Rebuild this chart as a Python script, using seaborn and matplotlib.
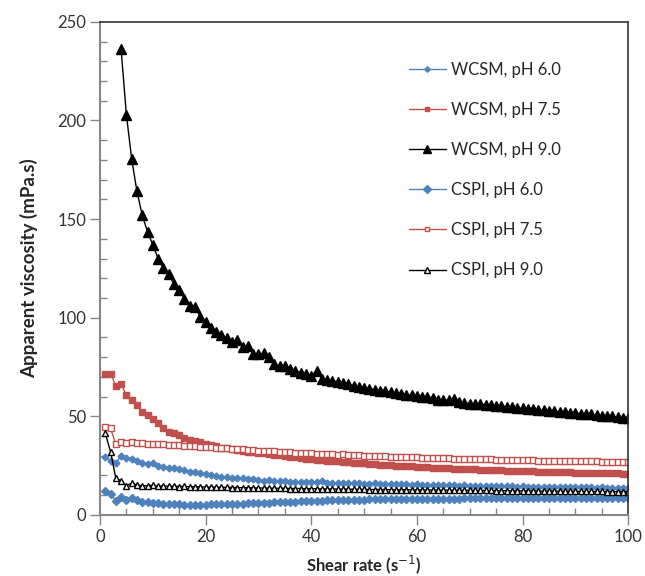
import numpy as np
import pandas as pd
import matplotlib
matplotlib.use("Agg")
import matplotlib.pyplot as plt
import seaborn as sns
from matplotlib.ticker import MultipleLocator

# shear rate grid (1/s)
shear_rate = np.arange(1, 101)
shear_rate_w90 = np.arange(4, 101)

# apparent viscosity (mPa.s)
wcsm_60 = [29.6, 27.4, 26.2, 30.1, 29.1, 28.4, 27.4, 26.2, 25.7, 26.2,
           25.0, 24.5, 23.7, 23.7, 23.3, 22.8, 22.0, 21.6, 21.1, 20.6,
           20.3, 19.9, 19.4, 19.4, 18.9, 18.9, 18.6, 18.3, 18.1, 17.8,
           17.4, 17.5, 17.2, 17.1, 17.2, 16.9, 16.8, 16.7, 16.8, 16.5,
           16.6, 17.0, 16.4, 16.3, 16.2, 16.4, 16.1, 16.0, 16.2, 15.9,
           15.8, 16.0, 15.7, 15.6, 15.8, 15.6, 15.5, 15.7, 15.4, 15.5,
           15.3, 15.4, 15.2, 15.3, 15.1, 15.0, 15.1, 14.9, 15.0, 14.8,
           14.9, 14.8, 14.7, 14.8, 14.6, 14.5, 14.6, 14.5, 14.4, 14.5,
           14.4, 14.3, 14.4, 14.3, 14.2, 14.3, 14.2, 14.1, 14.2, 14.1,
           14.0, 14.1, 14.0, 13.9, 14.0, 13.9, 13.9, 13.8, 13.9, 13.8]

wcsm_75 = [71.5, 71.7, 65.6, 66.3, 60.8, 58.3, 55.8, 52.1, 50.7, 48.7,
           46.5, 44.0, 42.3, 41.4, 40.6, 39.2, 38.0, 37.5, 36.9, 35.8,
           35.5, 35.1, 34.1, 33.8, 33.3, 33.0, 32.5, 32.1, 31.8, 31.6,
           31.3, 30.8, 30.5, 30.2, 29.8, 29.5, 29.2, 28.9, 28.6, 28.3,
           28.1, 27.8, 27.5, 27.3, 27.1, 26.9, 26.7, 26.5, 26.3, 26.1,
           25.9, 25.7, 25.5, 25.4, 25.2, 25.0, 24.9, 24.7, 24.6, 24.4,
           24.3, 24.1, 24.0, 23.9, 23.7, 23.6, 23.5, 23.4, 23.3, 23.2,
           23.1, 23.0, 22.9, 22.8, 22.7, 22.6, 22.5, 22.4, 22.4, 22.3,
           22.2, 22.1, 22.0, 22.0, 21.9, 21.8, 21.7, 21.7, 21.6, 21.5,
           21.5, 21.4, 21.4, 21.3, 21.2, 21.2, 21.1, 21.1, 21.0, 21.0]

wcsm_90 = [236.0, 203.0, 180.5, 164.0, 152.0, 143.5, 137.0,
           130.0, 125.0, 122.0, 117.0, 114.0, 109.5, 106.0, 105.5, 100.5, 98.0,
           95.0, 93.0, 91.0, 89.5, 87.5, 88.5, 85.0, 85.5, 81.5, 81.5,
           82.0, 80.0, 76.5, 75.5, 75.5, 74.0, 73.0, 72.0, 71.5, 70.5,
           73.0, 69.0, 68.5, 68.0, 67.5, 67.0, 66.5, 65.5, 65.0, 64.5,
           64.0, 63.5, 63.0, 62.8, 62.2, 61.8, 61.5, 61.0, 60.6, 60.2,
           59.8, 59.6, 59.5, 58.5, 58.3, 58.1, 58.6, 57.2, 56.8, 56.5,
           56.2, 56.0, 55.7, 55.5, 55.2, 55.4, 54.8, 54.6, 54.2, 54.0,
           53.8, 53.5, 53.2, 53.0, 52.8, 52.6, 52.3, 52.0, 51.8, 51.6,
           51.4, 51.2, 51.0, 50.7, 50.4, 50.2, 50.0, 49.7, 49.3, 49.0]

cspi_60 = [12.2, 10.5, 7.3, 9.0, 7.6, 8.8, 7.6, 6.8, 6.8, 6.3,
           5.9, 5.8, 5.6, 5.5, 5.3, 5.2, 5.1, 5.0, 5.1, 5.2,
           5.3, 5.3, 5.4, 5.5, 5.6, 5.7, 5.8, 5.9, 6.0, 6.1,
           6.2, 6.3, 6.4, 6.5, 6.6, 6.7, 6.8, 6.9, 7.0, 7.1,
           7.2, 7.3, 7.4, 7.5, 7.5, 7.6, 7.7, 7.7, 7.8, 7.8,
           7.9, 7.9, 8.0, 8.0, 8.0, 8.1, 8.1, 8.1, 8.2, 8.2,
           8.2, 8.2, 8.3, 8.3, 8.3, 8.3, 8.3, 8.3, 8.4, 8.4,
           8.4, 8.4, 8.4, 8.4, 8.4, 8.4, 8.4, 8.5, 8.5, 8.5,
           8.5, 8.5, 8.5, 8.5, 8.5, 8.5, 8.5, 8.5, 8.5, 8.5,
           8.5, 8.5, 8.5, 8.5, 8.5, 8.5, 8.5, 8.5, 8.5, 8.5]

cspi_75 = [44.8, 44.0, 35.8, 37.2, 36.4, 37.2, 36.4, 36.4, 36.2, 36.2,
           36.0, 35.8, 35.6, 35.3, 35.4, 35.0, 35.2, 34.8, 34.6, 34.5,
           34.3, 34.1, 33.9, 33.7, 33.5, 33.3, 33.2, 33.0, 32.8, 32.6,
           32.5, 32.3, 32.2, 32.0, 31.9, 31.7, 31.6, 31.5, 31.3, 31.2,
           31.1, 31.0, 30.9, 30.7, 30.6, 30.8, 30.4, 30.3, 30.2, 30.1,
           30.0, 29.9, 29.8, 29.7, 29.6, 29.5, 29.4, 29.3, 29.3, 29.2,
           29.1, 29.0, 28.9, 28.9, 28.8, 28.7, 28.6, 28.6, 28.5, 28.4,
           28.4, 28.3, 28.2, 28.2, 28.1, 28.0, 28.0, 27.9, 27.9, 27.8,
           27.7, 27.7, 27.6, 27.6, 27.5, 27.5, 27.4, 27.4, 27.3, 27.3,
           27.2, 27.2, 27.1, 27.1, 27.0, 27.0, 26.9, 26.9, 26.8, 26.8]

cspi_90 = [41.4, 32.1, 18.6, 17.4, 14.9, 16.1, 15.2, 14.7, 14.8, 15.0,
           14.6, 14.7, 14.5, 14.6, 14.4, 14.5, 14.3, 14.3, 14.2, 14.2,
           14.1, 14.1, 14.0, 14.0, 13.9, 13.9, 13.8, 13.8, 13.7, 13.7,
           13.6, 13.6, 13.5, 13.5, 13.5, 13.4, 13.4, 13.4, 13.3, 13.3,
           13.3, 13.2, 13.2, 13.2, 13.1, 13.1, 13.1, 13.0, 13.0, 13.0,
           12.9, 12.9, 12.9, 12.9, 12.8, 12.8, 12.8, 12.8, 12.7, 12.7,
           12.7, 12.7, 12.6, 12.6, 12.6, 12.6, 12.5, 12.5, 12.5, 12.5,
           12.4, 12.4, 12.4, 12.4, 12.3, 12.3, 12.3, 12.3, 12.2, 12.2,
           12.2, 12.2, 12.1, 12.1, 12.1, 12.1, 12.0, 12.0, 12.0, 12.0,
           11.9, 11.9, 11.9, 11.9, 11.9, 11.8, 11.8, 11.8, 11.8, 11.8]

blue = "#4F81BD"
red = "#C0504D"

sns.set_style("white")
plt.rcParams["font.family"] = ["Lato", "DejaVu Sans"]

fig = plt.figure(figsize=(6.45, 5.76), dpi=100)
ax = fig.add_axes([0.155, 0.106, 0.819, 0.856])

# label, x, y, colour, marker, size, filled
series = [
    ("WCSM, pH 6.0", shear_rate, wcsm_60, blue, "D", 3.5, True),
    ("WCSM, pH 7.5", shear_rate, wcsm_75, red, "s", 4.0, True),
    ("WCSM, pH 9.0", shear_rate_w90, wcsm_90, "black", "^", 6.5, True),
    ("CSPI, pH 6.0", shear_rate, cspi_60, blue, "D", 4.5, True),
    ("CSPI, pH 7.5", shear_rate, cspi_75, red, "s", 4.0, False),
    ("CSPI, pH 9.0", shear_rate, cspi_90, "black", "^", 5.0, False),
]

for label, xs, ys, c, m, ms, filled in series:
    sns.lineplot(x=xs, y=ys, ax=ax, color=c, lw=1.0, marker=m,
                 markersize=ms, markeredgecolor=c,
                 markerfacecolor=c if filled else "white",
                 markeredgewidth=1.0, label=label)

ax.set_xlim(0, 100)
ax.set_ylim(0, 250)
ax.xaxis.set_major_locator(MultipleLocator(20))
ax.xaxis.set_minor_locator(MultipleLocator(5))
ax.yaxis.set_major_locator(MultipleLocator(50))
ax.yaxis.set_minor_locator(MultipleLocator(10))
ax.tick_params(which="major", direction="out", length=7, width=1,
               color="#868686", labelsize=12, labelcolor="#333333",
               bottom=True, left=True, pad=3)
ax.tick_params(which="minor", direction="in", length=5, width=1,
               color="#868686", bottom=True, left=True)

for side in ["left", "bottom"]:
    ax.spines[side].set_color("#868686")
    ax.spines[side].set_linewidth(1.5)
for side in ["top", "right"]:
    ax.spines[side].set_color("#333333")
    ax.spines[side].set_linewidth(1.2)

ax.set_xlabel("Shear rate (s$^{-1}$)", fontsize=12, fontweight="bold", labelpad=6)
ax.set_ylabel("Apparent viscosity (mPa.s)", fontsize=13.5, fontweight="bold", labelpad=14)

ax.legend(loc="upper right", bbox_to_anchor=(0.90, 0.95), frameon=False,
          fontsize=12, labelspacing=1.45, handlelength=2.2, handletextpad=0.3,
          markerscale=0.8)

fig.savefig("out.png", dpi=100)
